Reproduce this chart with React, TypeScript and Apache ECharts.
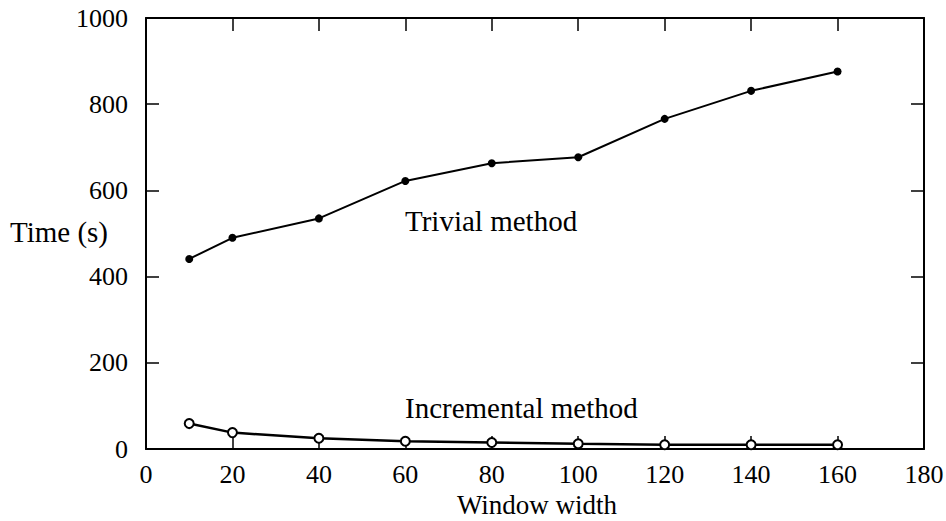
import React, { useEffect, useRef } from "react";
import * as echarts from "echarts";

const windowWidths = [10, 20, 40, 60, 80, 100, 120, 140, 160];
const trivialTimes = [441, 490, 535, 622, 663, 677, 766, 831, 876];
const incrementalTimes = [59, 38, 25, 18, 15, 12, 10, 10, 10];
const xTicks = [0, 20, 40, 60, 80, 100, 120, 140, 160, 180];
const yTicks = [0, 200, 400, 600, 800, 1000];

const FONT = "'Liberation Serif', 'DejaVu Serif', serif";

export default function App() {
  const ref = useRef<HTMLDivElement>(null);
  useEffect(() => {
    if (!ref.current) return;
    const chart = echarts.init(ref.current, undefined, { renderer: "svg" });
    const axisLine = { show: true, onZero: false, lineStyle: { color: "#000", width: 2 } };
    const tick = { show: true, inside: true, length: 13, lineStyle: { color: "#000", width: 1.5 } };
    const xBase = {
      type: "value",
      min: xTicks[0],
      max: xTicks[xTicks.length - 1],
      interval: 20,
      axisLine,
      axisTick: tick,
      splitLine: { show: false },
    };
    const yBase = {
      type: "value",
      min: yTicks[0],
      max: yTicks[yTicks.length - 1],
      interval: 200,
      axisLine,
      axisTick: tick,
      splitLine: { show: false },
    };
    const trivialData = windowWidths.map((x, i) => [x, trivialTimes[i]]);
    chart.setOption({
      animation: false,
      backgroundColor: "#fff",
      grid: { left: 146, top: 18, right: 22, bottom: 72, containLabel: false, outerBoundsMode: "none" },
      xAxis: [
        {
          ...xBase,
          position: "bottom",
          axisLabel: { color: "#000", fontFamily: FONT, fontSize: 26, margin: 12 },
        },
        { ...xBase, position: "top", axisLabel: { show: false } },
      ],
      yAxis: [
        {
          ...yBase,
          position: "left",
          axisLabel: {
            color: "#000",
            fontFamily: FONT,
            fontSize: 26,
            margin: 18,
            formatter: (v: number) => String(v),
          },
        },
        { ...yBase, position: "right", axisLabel: { show: false } },
      ],
      graphic: [
        {
          type: "text",
          x: 537,
          y: 505,
          style: { text: "Window width", fill: "#000", font: `27px ${FONT}`, verticalAlign: "middle", align: "center" },
        },
        {
          type: "text",
          x: 10,
          y: 232,
          style: { text: "Time (s)", fill: "#000", font: `29px ${FONT}`, verticalAlign: "middle", align: "left" },
        },
        {
          type: "text",
          x: 405,
          y: 221,
          style: { text: "Trivial method", fill: "#000", font: `29px ${FONT}`, verticalAlign: "middle", align: "left" },
        },
        {
          type: "text",
          x: 405,
          y: 408,
          style: { text: "Incremental method", fill: "#000", font: `29px ${FONT}`, verticalAlign: "middle", align: "left" },
        },
      ],
      series: [
        {
          name: "Trivial method",
          type: "line",
          data: trivialData,
          symbol: "circle",
          symbolSize: 8,
          showAllSymbol: true,
          itemStyle: { color: "#000" },
          lineStyle: { color: "#000", width: 2 },
          z: 3,
        },
        {
          name: "Incremental method",
          type: "line",
          data: windowWidths.map((x, i) => [x, incrementalTimes[i]]),
          symbol: "emptyCircle",
          symbolSize: 9,
          showAllSymbol: true,
          itemStyle: { color: "#000", borderColor: "#000", borderWidth: 1.2 },
          lineStyle: { color: "#000", width: 2.5 },
          z: 3,
        },
        {
          name: "mirror",
          type: "line",
          xAxisIndex: 1,
          yAxisIndex: 1,
          data: trivialData,
          symbol: "none",
          silent: true,
          lineStyle: { opacity: 0 },
          tooltip: { show: false },
        },
      ],
    });
    return () => chart.dispose();
  }, []);
  return (
    <div
      ref={ref}
      style={{ position: "absolute", left: 0, top: 0, width: 946, height: 521 }}
    />
  );
}
